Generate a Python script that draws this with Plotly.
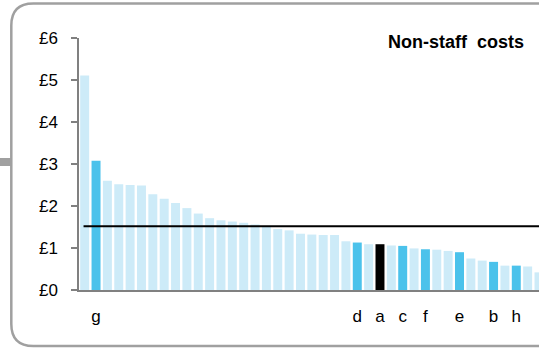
import plotly.graph_objects as go

# ---- data ----
values = [5.11, 3.08, 2.60, 2.52, 2.50, 2.49, 2.28, 2.17, 2.07, 1.95, 1.82,
          1.71, 1.66, 1.63, 1.60, 1.56, 1.51, 1.45, 1.42, 1.34, 1.32, 1.31,
          1.31, 1.16, 1.13, 1.09, 1.09, 1.06, 1.05, 0.99, 0.97, 0.96, 0.93,
          0.90, 0.75, 0.70, 0.67, 0.58, 0.58, 0.56, 0.42]
labels = [""] * len(values)
named = {1: "g", 24: "d", 26: "a", 28: "c", 30: "f", 33: "e", 36: "b", 38: "h"}
for k, v in named.items():
    labels[k] = v
own_org = "a"
average = 1.52
y_ticks = [0, 1, 2, 3, 4, 5, 6]
y_ticktext = ["£0", "£1", "£2", "£3", "£4", "£5", "£6"]
title = "Non-staff costs"

LIGHT = "#CDEBF8"
MID = "#4BC2EB"
colors = []
for lab in labels:
    if lab == own_org:
        colors.append("#000000")
    elif lab:
        colors.append(MID)
    else:
        colors.append(LIGHT)

x = list(range(len(values)))

W, H = 539, 348
ML, MR, MT, MB = 79, 0, 38, 58
PW, PH = W - ML - MR, H - MT - MB


def px(xp):
    return (xp - ML) / PW


def py(yp):
    return (H - MB - yp) / PH


fig = go.Figure()
fig.add_trace(go.Bar(x=x, y=values, marker=dict(color=colors, line=dict(width=0)),
                     hoverinfo="skip", showlegend=False))
fig.add_trace(go.Scatter(x=[-0.1, len(values) + 1], y=[average, average], mode="lines",
                         line=dict(color="black", width=2), hoverinfo="skip",
                         showlegend=False))

# rounded border (pixel positions converted to paper coords)
x0, x1, y0, y1, r = 11.3, 562, 3.5, 346, 22


def P(a, b):
    return f"{px(a):.5f},{py(b):.5f}"


path = (f"M {P(x0 + r, y0)} L {P(x1 - r, y0)} Q {P(x1, y0)} {P(x1, y0 + r)} "
        f"L {P(x1, y1 - r)} Q {P(x1, y1)} {P(x1 - r, y1)} "
        f"L {P(x0 + r, y1)} Q {P(x0, y1)} {P(x0, y1 - r)} "
        f"L {P(x0, y0 + r)} Q {P(x0, y0)} {P(x0 + r, y0)} Z")
fig.add_shape(type="path", path=path, xref="paper", yref="paper",
              line=dict(color="#A0A0A0", width=2.5), layer="below")
fig.add_shape(type="rect", xref="paper", yref="paper",
              x0=px(0), x1=px(11), y0=py(166), y1=py(158),
              fillcolor="#A0A0A0", line=dict(width=0), layer="below")

fig.add_annotation(text="<b>" + title.replace(" ", "&nbsp; ") + "</b>", xref="paper", yref="paper",
                   x=px(526), y=py(42), xanchor="right", yanchor="middle",
                   showarrow=False,
                   font=dict(family="Liberation Sans, Arial", size=18, color="black"))

fig.update_layout(
    width=W, height=H,
    margin=dict(l=ML, r=MR, t=MT, b=MB, pad=0),
    paper_bgcolor="white", plot_bgcolor="white",
    bargap=0.21,
    font=dict(family="Liberation Sans, Arial", size=17, color="black"),
    xaxis=dict(range=[-0.5, 40.0], tickvals=x, ticktext=labels,
               showline=True, linecolor="#808080", linewidth=2,
               ticks="", showgrid=False, zeroline=False,
               ticklabelstandoff=10, fixedrange=True),
    yaxis=dict(range=[0, 6], tickvals=y_ticks, ticktext=y_ticktext,
               showline=True, linecolor="#808080", linewidth=1.5,
               ticks="outside", ticklen=6, tickcolor="#808080", tickwidth=1.5,
               showgrid=False, zeroline=False, ticklabelstandoff=10,
               fixedrange=True),
)

fig.write_html("out.html", config={"displayModeBar": False},
               post_script="document.body.style.margin='0px';document.body.style.overflow='hidden';")
